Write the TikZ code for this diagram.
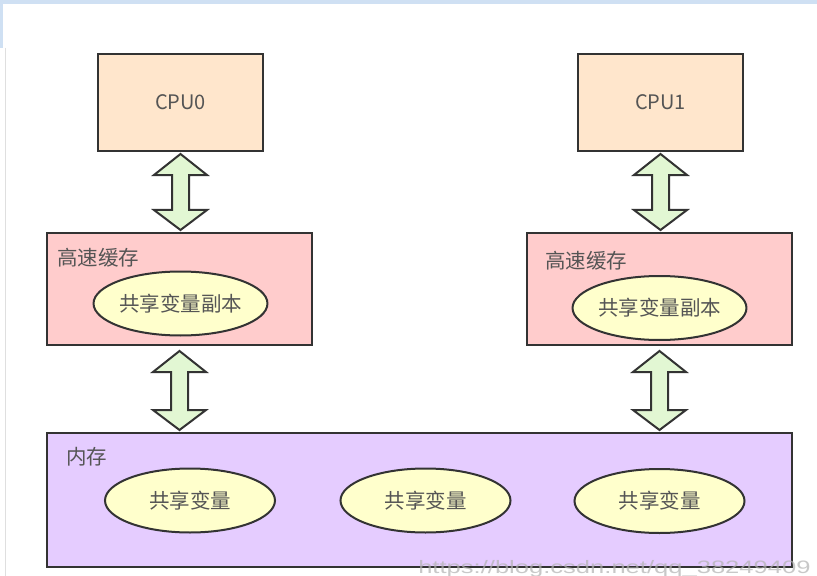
\documentclass[tikz,border=0pt]{standalone}
\usepackage{fontspec}
\setmainfont{Noto Sans CJK SC}
\newfontfamily\wmfont{Liberation Sans}
\usetikzlibrary{shapes.geometric,calc}
\definecolor{cpuc}{HTML}{FFE6CC}
\definecolor{cachec}{HTML}{FFCCCC}
\definecolor{memc}{HTML}{E5CCFF}
\definecolor{varc}{HTML}{FFFFCC}
\definecolor{arrc}{HTML}{E2F7D3}
\definecolor{linec}{HTML}{333333}
\definecolor{txtc}{HTML}{555555}
\definecolor{topbar}{HTML}{CFE0F3}
\tikzset{
  boxsty/.style={draw=linec, line width=2bp, rectangle, inner sep=0pt},
  cpusty/.style={boxsty, fill=cpuc, minimum width=165bp, minimum height=97bp,
    text=txtc, font=\fontsize{20bp}{24bp}\selectfont},
  cachesty/.style={boxsty, fill=cachec, minimum width=265bp, minimum height=112bp},
  memsty/.style={boxsty, fill=memc, minimum width=745bp, minimum height=134bp},
  varsty/.style={draw=linec, line width=2bp, ellipse, fill=varc, inner sep=0pt,
    minimum width=170bp, minimum height=64bp, text=txtc,
    font=\fontsize{20.5bp}{24bp}\selectfont},
  labsty/.style={anchor=west, inner sep=0pt, text=txtc,
    font=\fontsize{20.5bp}{24bp}\selectfont},
  arrowsty/.style={draw=linec, line width=2bp, fill=arrc, line join=miter}
}
\newcommand\dblarr[2]{%
  \draw[arrowsty] let \p1=(#1), \p2=(#2) in
    (\x1,\y1-1bp) -- (\x1+26.5bp,\y1-22bp) -- (\x1+8.5bp,\y1-22bp) --
    (\x1+8.5bp,\y2+22bp) -- (\x1+26.5bp,\y2+22bp) -- (\x1,\y2+2bp) --
    (\x1-26.5bp,\y2+22bp) -- (\x1-8.5bp,\y2+22bp) -- (\x1-8.5bp,\y1-22bp) --
    (\x1-26.5bp,\y1-22bp) -- cycle;}
\begin{document}
\begin{tikzpicture}[x=1bp,y=-1bp]
\useasboundingbox (0,0) rectangle (817,576);
\fill[white] (0,0) rectangle (817,576);
\fill[topbar] (0,0) rectangle (817,4);
\fill[topbar] (0,0) rectangle (3,48);
\draw[gray!25, line width=1bp] (5,48) -- (5,576);

% CPUs
\node[cpusty] (cpu0) at (180.5,102.5) {CPU0};
\node[cpusty] (cpu1) at (660.5,102.5) {CPU1};

% caches
\node[cachesty] (cache0) at (179.5,289) {};
\node[cachesty] (cache1) at (659.5,289) {};
\node[labsty] (lab0) at (57,258) {高速缓存};
\node[labsty] (lab1) at (545,261) {高速缓存};
\node[varsty] (copy0) at (180.5,303.5) {共享变量副本};
\node[varsty] (copy1) at (659.5,308) {共享变量副本};

% memory
\node[memsty] (mem) at (419.5,500) {};
\node[labsty] (memlab) at (66,457) {内存};
\node[varsty] (var0) at (190,500.5) {共享变量};
\node[varsty] (var1) at (425.5,500.5) {共享变量};
\node[varsty] (var2) at (659.5,501) {共享变量};

% arrows
\coordinate (c0top) at ($(cpu0.south)+(0,1)$);
\coordinate (c0bot) at ($(cpu0.south |- cache0.north)$);
\coordinate (c1top) at ($(cpu1.south)+(0,1)$);
\coordinate (c1bot) at ($(cpu1.south |- cache1.north)$);
\coordinate (m0top) at ($(cache0.south)+(0,4)$);
\coordinate (m0bot) at ($(cache0.south |- mem.north)$);
\coordinate (m1top) at ($(cache1.south)+(0,4)$);
\coordinate (m1bot) at ($(cache1.south |- mem.north)$);
\dblarr{c0top}{c0bot}
\dblarr{c1top}{c1bot}
\dblarr{m0top}{m0bot}
\dblarr{m1top}{m1bot}

% watermark
\node[anchor=base west, inner sep=0pt, text=gray!60, opacity=0.7, xscale=1.42,
  font=\wmfont\fontsize{18bp}{20bp}\selectfont] (wm) at (418,573) {https://blog.csdn.net/qq\_38249409};
\end{tikzpicture}
\end{document}
